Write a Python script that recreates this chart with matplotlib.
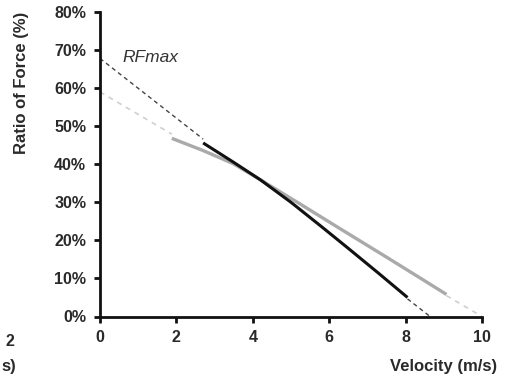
import matplotlib
matplotlib.use("Agg")
import matplotlib.pyplot as plt

# Data
black_v = [2.7, 3.5, 4.2, 5.0, 5.8, 6.5, 7.3, 8.05]
black_rf = [45.6, 40.5, 35.9, 30.0, 23.6, 17.9, 11.3, 5.0]
gray_v = [1.88, 2.7, 3.5, 4.2, 5.2, 6.28, 7.5, 8.4, 9.07]
gray_rf = [46.8, 43.6, 40.1, 35.9, 29.8, 23.1, 15.6, 10.0, 5.8]

# extrapolated linear fits (intercepts)
black_rfmax = 67.8
black_v0 = 8.64
gray_rfmax = 59.0
gray_v0 = 10.0

x_ticks = [0, 2, 4, 6, 8, 10]
y_ticks = [0, 10, 20, 30, 40, 50, 60, 70, 80]
y_ticklabels = [f"{t}%" for t in y_ticks]

plt.rcParams['font.family'] = ['Liberation Sans', 'DejaVu Sans']

fig = plt.figure(figsize=(5.05, 3.76), dpi=100)
ax = fig.add_axes([100/505, 1 - 316.5/376, 382/505, 304.5/376])

# dashed extrapolations
ax.plot([0, gray_v[0]], [gray_rfmax, gray_rfmax - gray_rfmax/gray_v0*gray_v[0]],
        color='#cfcfcf', lw=1.2, ls=(0, (3, 3)), zorder=1)
ax.plot([gray_v[-1], gray_v0], [gray_rfmax - gray_rfmax/gray_v0*gray_v[-1], 0],
        color='#cfcfcf', lw=1.2, ls=(0, (3, 3)), zorder=1)
ax.plot([0, black_v[0]], [black_rfmax, black_rfmax - black_rfmax/black_v0*black_v[0]],
        color='#444444', lw=1.0, ls=(0, (3, 2.5)), zorder=2)
ax.plot([black_v[-1], black_v0], [black_rfmax - black_rfmax/black_v0*black_v[-1], 0],
        color='#444444', lw=1.0, ls=(0, (3, 2.5)), zorder=2)

# solid curves
ax.plot(gray_v, gray_rf, color='#aaaaaa', lw=2.4, solid_capstyle='butt', zorder=3)
ax.plot(black_v, black_rf, color='#111111', lw=2.2, solid_capstyle='butt', zorder=4)

ax.set_xlim(0, 10)
ax.set_ylim(0, 80)
ax.set_xticks(x_ticks)
ax.set_yticks(y_ticks)
ax.set_yticklabels(y_ticklabels)
for s in ['top', 'right']:
    ax.spines[s].set_visible(False)
for s in ['left', 'bottom']:
    ax.spines[s].set_linewidth(2.0)
    ax.spines[s].set_color('#111111')
ax.tick_params(axis='both', direction='out', length=4, width=2.0, color='#111111',
               labelsize=11.5, labelcolor='#2a2a2a', pad=6)
for lab in ax.get_xticklabels() + ax.get_yticklabels():
    lab.set_fontweight('bold')

ax.set_ylabel('Ratio of Force (%)', fontsize=12, fontweight='bold', color='#2a2a2a')
ax.yaxis.set_label_coords(-71/382, (316.5 - 83) / 304.5)
fig.text(497/505, 1 - 367/376, 'Velocity (m/s)', ha='right', va='center',
         fontsize=12, fontweight='bold', color='#2a2a2a')

fig.text(122/505, 1 - 57/376, 'RFmax', ha='left', va='center', fontsize=12.5,
         style='italic', color='#333333')

# fragments of neighbouring panel at left edge
fig.text(14/505, 1 - 341/376, '2', ha='right', va='center', fontsize=11.5,
         fontweight='bold', color='#2a2a2a')
fig.text(1/505, 1 - 366/376, 's)', ha='left', va='center', fontsize=12,
         fontweight='bold', color='#2a2a2a')

fig.savefig('out.png', dpi=100)
